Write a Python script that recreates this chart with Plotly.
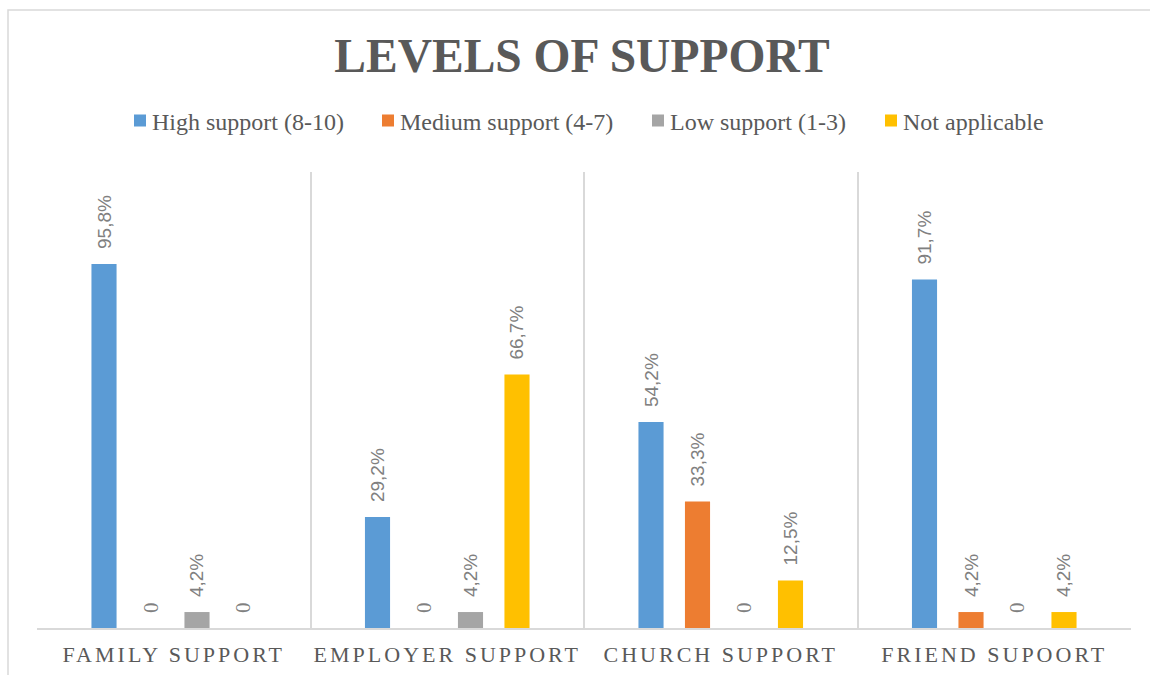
import plotly.graph_objects as go

# Survey results: share of respondents per support level (in percent)
categories = ["FAMILY SUPPORT", "EMPLOYER SUPPORT", "CHURCH SUPPORT", "FRIEND SUPOORT"]
series_names = ["High support (8-10)", "Medium support (4-7)", "Low support (1-3)", "Not applicable"]
high_support = [95.8, 29.2, 54.2, 91.7]
medium_support = [0, 0, 33.3, 4.2]
low_support = [4.2, 4.2, 0, 0]
not_applicable = [0, 66.7, 12.5, 4.2]

series_values = [high_support, medium_support, low_support, not_applicable]
series_colors = ["#5B9BD5", "#ED7D31", "#A5A5A5", "#FFC000"]

SERIF = "Liberation Serif, Times New Roman, serif"
SANS = "Liberation Sans, Arial, sans-serif"

# plot area in pixels: x 37..1131, y 172..628
L, R, T, B = 37, 19, 172, 47
W, H = 1150, 675
pw, ph = W - L - R, H - T - B


def px_x(p):
    return (p - L) / pw


def px_y(p):
    return (H - B - p) / ph


def label_for(v):
    if v == 0:
        return "0"
    return f"{v:.1f}".replace(".", ",") + "%"


# each series gets its own legend box so the entries can be spaced freely
legend_ids = ["legend", "legend2", "legend3", "legend4"]
legend_left_px = [112, 360, 630, 863]

fig = go.Figure()
for name, vals, color, lid in zip(series_names, series_values, series_colors, legend_ids):
    labels = [label_for(v) for v in vals]
    fig.add_trace(go.Bar(
        name=name,
        x=categories,
        y=vals,
        legend=lid,
        showlegend=True,
        marker=dict(color=color, line=dict(width=0)),
        text=labels,
        textposition="outside",
        textangle=-90,
        constraintext="none",
        cliponaxis=False,
        textfont=dict(
            family=[SERIF if v == 0 else SANS for v in vals],
            size=[21 if v == 0 else 19 for v in vals],
            color="#808080",
        ),
        hoverinfo="skip",
    ))

legend_style = dict(
    orientation="h",
    xanchor="left",
    y=px_y(121),
    yanchor="middle",
    font=dict(family=SERIF, size=24, color="#595959"),
    itemclick=False,
    itemdoubleclick=False,
    bgcolor="rgba(0,0,0,0)",
)
legends = {lid: dict(legend_style, x=px_x(xp)) for lid, xp in zip(legend_ids, legend_left_px)}

fig.update_layout(
    width=W,
    height=H,
    showlegend=True,
    margin=dict(l=L, r=R, t=T, b=B, pad=0, autoexpand=False),
    paper_bgcolor="white",
    plot_bgcolor="white",
    barmode="group",
    bargap=0.32,
    bargroupgap=0.46,
    title=dict(
        text="<b>LEVELS OF SUPPORT</b>",
        x=582 / W,
        xanchor="center",
        y=1 - 55 / H,
        yanchor="middle",
        font=dict(family=SERIF, size=47.5, color="#595959"),
    ),
    xaxis=dict(
        type="category",
        range=[-0.5, 3.5],
        tickson="boundaries",
        showgrid=True,
        gridcolor="#D9D9D9",
        gridwidth=1.5,
        showline=True,
        linecolor="#D9D9D9",
        linewidth=2,
        ticks="",
        ticklabelstandoff=6,
        automargin=False,
        tickfont=dict(family=SERIF, size=22, color="#595959"),
        fixedrange=True,
    ),
    yaxis=dict(
        range=[0, 120],
        visible=False,
        showgrid=False,
        zeroline=False,
        automargin=False,
        fixedrange=True,
    ),
    shapes=[
        dict(
            type="rect",
            xref="paper",
            yref="paper",
            x0=px_x(8),
            x1=px_x(1165),
            y0=px_y(690),
            y1=px_y(10),
            line=dict(color="#D9D9D9", width=1.5),
            fillcolor="rgba(0,0,0,0)",
            layer="below",
        )
    ],
    **legends,
)

# letter-spaced category labels, a wider gap between bar ends and value labels,
# and legend swatches set closer to their text
post_js = (
    "document.querySelectorAll('.xtick text').forEach(function(t){"
    "t.style.letterSpacing='3px';});"
    "document.querySelectorAll('.barlayer .point text').forEach(function(t){"
    "var tr=t.getAttribute('transform')||'';"
    "t.setAttribute('transform','translate(0,-12) '+tr);});"
    "document.querySelectorAll('.legendpoints').forEach(function(g){"
    "g.setAttribute('transform','translate(8,0)');});"
)

fig.write_html("out.html", config={"displayModeBar": False}, post_script=post_js)
